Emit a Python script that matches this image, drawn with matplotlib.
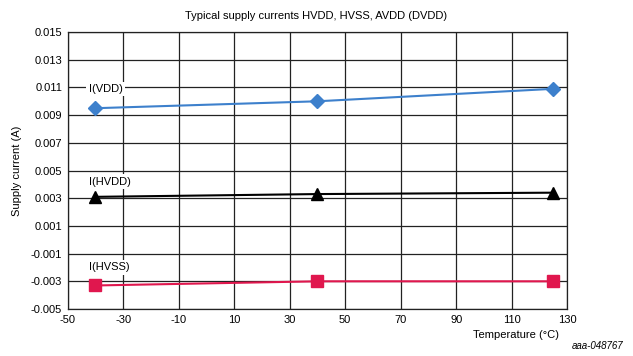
import matplotlib.pyplot as plt
import numpy as np

temps = [-40, 40, 125]
i_vdd = [0.0095, 0.0100, 0.0109]
i_hvdd = [0.0031, 0.0033, 0.0034]
i_hvss = [-0.0033, -0.0030, -0.0030]

xticks = np.arange(-50, 131, 20)
yticks = np.arange(-0.005, 0.0151, 0.002)

plt.rcParams['font.family'] = ['Liberation Sans', 'DejaVu Sans']
plt.rcParams['axes.unicode_minus'] = False

fig = plt.figure(figsize=(6.33, 3.56), dpi=100)
ax = fig.add_axes([0.107, 0.132, 0.789, 0.778])

ax.plot(temps, i_vdd, color='#3d80cc', lw=1.5, marker='D', ms=7, zorder=3)
ax.plot(temps, i_hvdd, color='black', lw=1.5, marker='^', ms=8, zorder=3)
ax.plot(temps, i_hvss, color='#e0174e', lw=1.5, marker='s', ms=8, zorder=3)

box = dict(facecolor='white', edgecolor='none', pad=1.5)
ax.text(-42.5, 0.0109, 'I(VDD)', fontsize=8, va='center', bbox=box, zorder=4)
ax.text(-42.5, 0.0042, 'I(HVDD)', fontsize=8, va='center', bbox=box, zorder=4)
ax.text(-42.5, -0.0020, 'I(HVSS)', fontsize=8, va='center', bbox=box, zorder=4)

ax.set_xlim(-50, 130)
ax.set_ylim(-0.005, 0.015)
ax.set_xticks(xticks)
ax.set_yticks(yticks)
ax.set_yticklabels(['%.3f' % v for v in yticks])
ax.tick_params(labelsize=8, length=0, pad=4)
ax.grid(True, color='#222222', lw=0.9)
ax.set_axisbelow(True)
for s in ax.spines.values():
    s.set_color('#222222')
    s.set_linewidth(0.9)

ax.set_ylabel('Supply current (A)', fontsize=8, labelpad=6)
fig.text(0.5, 0.955, 'Typical supply currents HVDD, HVSS, AVDD (DVDD)',
         fontsize=8, ha='center', va='center')
fig.text(0.883, 0.058, 'Temperature (°C)', fontsize=8, ha='right', va='center')
fig.text(0.985, 0.015, 'aaa-048767', fontsize=7, ha='right', va='bottom',
         style='italic')

fig.savefig('out.png', dpi=100)
